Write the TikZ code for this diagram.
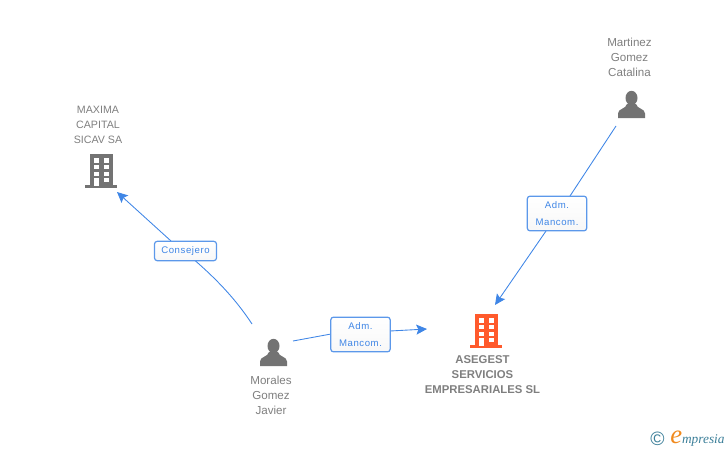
\documentclass[tikz,border=0pt]{standalone}
\usepackage{fontspec}
\setmainfont{Liberation Sans}
\newfontfamily\logofont{Liberation Serif}
\usetikzlibrary{arrows.meta}
\definecolor{linkblue}{HTML}{3F86E6}
\definecolor{iconorange}{HTML}{FF5A2C}
\definecolor{icongray}{HTML}{737373}
\definecolor{namegray}{HTML}{7F7F7F}
\definecolor{logoteal}{HTML}{3C7F99}
\definecolor{logoorange}{HTML}{F08A1E}
\tikzset{
  entity/.style={text=namegray,align=center,font=\fontsize{8}{11.25}\selectfont,inner sep=0pt},
  persona/.style={entity,font=\fontsize{8.7}{11.25}\selectfont},
  company/.style={entity,font=\fontsize{8.5}{11.25}\selectfont\bfseries},
  role/.style={draw=linkblue!85,line width=0.9pt,rounded corners=2pt,top color=white,bottom color=black!3,
    text=linkblue,align=center,font=\fontsize{7.2}{12.5}\selectfont\addfontfeature{LetterSpace=6},inner sep=0pt},
  link/.style={draw=linkblue,line width=0.65pt},
  linkend/.style={link,-{Stealth[length=8pt,width=7.5pt,inset=1.5pt]}},
  pics/building/.style={code={
    \fill[#1] (-11,-16) rectangle (11.5,16);
    \fill[#1] (-16,15) rectangle (16,18);
    \foreach \yy in {-11.7,-5,1.7} {
      \fill[white] (-7,\yy) rectangle (-2,\yy+4.2);
      \fill[white] (2.5,\yy) rectangle (7.5,\yy+4.2);
    }
    \fill[white] (-7,7.7) rectangle (-2,15.5);
    \fill[white] (2.5,7.7) rectangle (7.5,12.3);
  }},
  pics/person/.style={code={
    \fill[icongray] (0,-7) ellipse (6 and 7.2);
    \fill[icongray] (-13.5,13) -- (-13.5,8.5) .. controls (-13.5,3.5) and (-5.5,4) .. (-4.5,-1)
      -- (4.5,-1) .. controls (5.5,4) and (13.5,3.5) .. (13.5,8.5) -- (13.5,13) -- cycle;
  }}
}
\begin{document}
\begin{tikzpicture}[x=0.75pt,y=-0.75pt]
  \useasboundingbox (0,0) rectangle (728,450);
  % companies and people
  \pic at (101,170) {building=icongray};
  \pic at (486,330) {building=iconorange};
  \pic at (273.5,353) {person};
  \pic at (631.5,105) {person};
  \node[entity] (maxima) at (98,125) {MAXIMA\\CAPITAL\\SICAV SA};
  \node[company] (asegest) at (482.5,375) {ASEGEST\\SERVICIOS\\EMPRESARIALES SL};
  \node[persona] (morales) at (271,395) {Morales\\Gomez\\Javier};
  \node[persona] (martinez) at (629.5,57) {Martinez\\Gomez\\Catalina};
  % free ends
  \coordinate (moralesA) at (252,324);
  \coordinate (moralesB) at (293,341);
  \coordinate (martinezA) at (616,126);
  \coordinate (maximaIn) at (117,192);
  \coordinate (asegestIn) at (427,329);
  \coordinate (asegestTop) at (495,305);
  \coordinate (consejeroS) at (195,260.5);
  \coordinate (consejeroN) at (171,241);
  \coordinate (admAw) at (331,334);
  \coordinate (admAe) at (390,331);
  \coordinate (admBn) at (570,196);
  \coordinate (admBs) at (546,231);
  % links
  \draw[link] (moralesA) .. controls (235,298) and (215,278) .. (consejeroS);
  \draw[linkend] (consejeroN) -- (maximaIn);
  \draw[link] (moralesB) -- (admAw);
  \draw[linkend] (admAe) -- (asegestIn);
  \draw[link] (martinezA) -- (admBn);
  \draw[linkend] (admBs) -- (asegestTop);
  % roles
  \node[role,minimum width=46.5pt,minimum height=14.5pt] (consejero) at (185.5,251) {Consejero};
  \node[role,minimum width=44.5pt,minimum height=26pt] (admA) at (360.5,334.5) {Adm.\\Mancom.};
  \node[role,minimum width=44.5pt,minimum height=26pt] (admB) at (557,213.5) {Adm.\\Mancom.};
  % logo
  \node[inner sep=0pt,text=logoteal,font=\fontsize{14.5}{14.5}\selectfont] (copy) at (657.5,439) {©};
  \node[inner sep=0pt,anchor=base west,text=logoteal,font=\logofont\fontsize{10}{10}\selectfont\itshape] (brand) at (670,443)
    {{\color{logoorange}\fontsize{20}{20}\selectfont e}mpresia};
\end{tikzpicture}
\end{document}
